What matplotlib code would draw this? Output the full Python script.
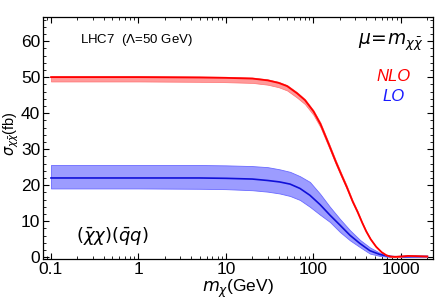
import matplotlib
matplotlib.use("Agg")
import matplotlib.pyplot as plt
import numpy as np

plt.rcParams['font.family'] = ['Liberation Sans', 'DejaVu Sans']
plt.rcParams['mathtext.fontset'] = 'dejavusans'

# NLO (red)
m_nlo = [0.1, 1, 5, 10, 20, 30, 40, 50, 65, 80, 100, 120, 150, 180, 210, 240, 280, 320, 360, 400, 450, 520, 600, 680, 750, 850, 1000, 1200, 1500, 2000]
nlo_c = [50.0, 50.0, 49.9, 49.8, 49.6, 49.1, 48.4, 47.5, 45.5, 43.6, 40.5, 37.0, 31.3, 26.5, 22.7, 19.5, 15.5, 12.5, 9.6, 7.2, 5.0, 2.9, 1.4, 0.55, 0.2, 0.1, 0.2, 0.35, 0.3, 0.2]
nlo_lo = [48.8, 48.8, 48.7, 48.6, 48.4, 47.9, 47.2, 46.3, 44.3, 42.5, 39.5, 36.1, 30.5, 25.8, 22.1, 19.0, 15.1, 12.2, 9.4, 7.0, 4.9, 2.8, 1.35, 0.5, 0.15, 0.05, 0.15, 0.3, 0.25, 0.15]
nlo_hi = [50.3, 50.3, 50.2, 50.1, 49.9, 49.4, 48.7, 47.8, 45.8, 43.9, 40.8, 37.4, 31.7, 26.9, 23.1, 19.9, 15.8, 12.8, 9.8, 7.4, 5.1, 3.0, 1.45, 0.6, 0.25, 0.15, 0.25, 0.4, 0.35, 0.25]

# LO (blue)
m_lo = [0.1, 1, 5, 10, 20, 30, 41, 54, 70, 91, 119, 154, 201, 261, 340, 442, 575, 687, 800, 900, 1000, 1300, 2000]
lo_c = [22.0, 22.0, 22.0, 21.9, 21.7, 21.3, 20.9, 20.3, 19.1, 17.2, 14.6, 11.7, 8.9, 6.1, 3.8, 1.8, 0.75, 0.35, 0.15, 0.1, 0.15, 0.2, 0.2]
lo_hi = [25.6, 25.6, 25.6, 25.5, 25.3, 25.0, 24.4, 23.7, 22.5, 20.9, 17.6, 14.0, 10.6, 7.5, 4.8, 2.7, 1.2, 0.55, 0.25, 0.2, 0.2, 0.25, 0.25]
lo_lo = [19.1, 19.1, 19.0, 18.9, 18.6, 18.2, 17.7, 17.0, 15.9, 14.0, 11.8, 9.8, 7.0, 4.7, 2.8, 1.0, 0.35, 0.15, 0.05, 0.05, 0.1, 0.15, 0.15]

yticks = [0, 10, 20, 30, 40, 50, 60]
xticks = [0.1, 1, 10, 100, 1000]
xticklabels = ['0.1', '1', '10', '100', '1000']

fig = plt.figure(figsize=(4.36, 3.02), dpi=100)
ax = fig.add_axes([0.0986, 0.1424, 0.8944, 0.8013])

ax.fill_between(m_lo, lo_lo, lo_hi, color='#9c9cff', edgecolor='#6a6aff', linewidth=0.6, zorder=2)
ax.plot(m_lo, lo_c, color='#1010d8', linewidth=1.2, zorder=3)
ax.fill_between(m_nlo, nlo_lo, nlo_hi, color='#ff9a9a', edgecolor='#ff7070', linewidth=0.5, zorder=4)
ax.plot(m_nlo, nlo_c, color='#ff0000', linewidth=1.3, zorder=5)

ax.set_xscale('log')
ax.set_xlim(0.081, 2320)
ax.set_ylim(-0.5, 66.7)
ax.set_xticks(xticks)
ax.set_xticklabels(xticklabels)
ax.set_yticks(yticks)
ax.yaxis.set_minor_locator(matplotlib.ticker.MultipleLocator(2))
ax.xaxis.set_minor_locator(matplotlib.ticker.LogLocator(base=10, subs=np.arange(2, 10)))
ax.xaxis.set_minor_formatter(matplotlib.ticker.NullFormatter())
ax.tick_params(which='both', direction='in', top=True, right=True, labelsize=12.5, pad=2)
ax.tick_params(which='major', length=4.5, width=0.8)
ax.tick_params(which='minor', length=2.3, width=0.6)
for s in ax.spines.values():
    s.set_linewidth(0.9)

ax.set_xlabel(r'$m_\chi$(GeV)', fontsize=12.5, labelpad=1)
ax.set_ylabel(r'$\sigma_{\chi\bar{\chi}}$(fb)', fontsize=10.5, va='center')
ax.yaxis.set_label_coords(-0.082, 0.52)

ax.text(0.095, 0.905, r'LHC7  ($\Lambda$=50 GeV)', transform=ax.transAxes, fontsize=9.5, va='center', ha='left')
ax.text(0.975, 0.895, r'$\mu\!=\!m_{\chi\bar{\chi}}$', transform=ax.transAxes, fontsize=13.5, va='center', ha='right')
ax.text(0.9, 0.755, 'NLO', transform=ax.transAxes, fontsize=12, color='#ff0000', style='italic', va='center', ha='center')
ax.text(0.9, 0.67, 'LO', transform=ax.transAxes, fontsize=12, color='#1a1aff', style='italic', va='center', ha='center')
ax.text(0.085, 0.095, r'$(\bar{\chi}\chi)(\bar{q}q)$', transform=ax.transAxes, fontsize=13, va='center', ha='left')

fig.savefig('out.png', dpi=100)
